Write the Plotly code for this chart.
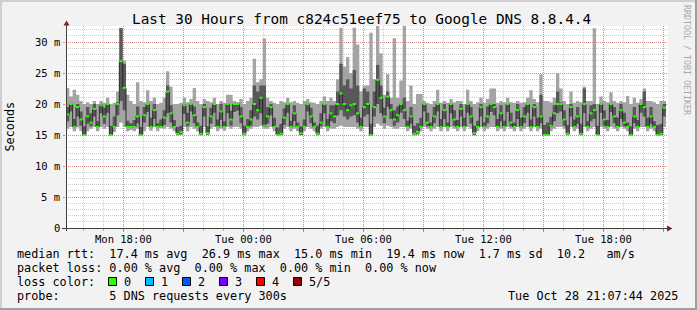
import plotly.graph_objects as go
import pandas as pd

# ---------------- data ----------------
TITLE = "Last 30 Hours from c824c51eef75 to Google DNS 8.8.4.4"
START = "2025-10-27 15:07:44"
END = "2025-10-28 21:07:44"
STEP = "10min"

# median rtt (ms) per 10-minute bin
median = [
    18.3, 20.0, 16.3, 19.5, 17.5, 15.0, 18.0, 17.0, 19.2, 16.3,
    19.8, 18.0, 20.0, 15.0, 16.3, 20.0, 26.9, 22.6, 16.3, 16.3,
    16.3, 18.0, 15.0, 18.2, 20.0, 16.3, 19.0, 16.3, 16.3, 17.8,
    22.0, 18.5, 16.3, 15.2, 15.5, 19.8, 17.0, 20.0, 18.2, 16.3,
    15.2, 19.5, 15.3, 18.0, 20.0, 16.3, 18.8, 16.3, 20.0, 17.5,
    20.0, 20.0, 18.0, 15.2, 16.3, 17.5, 20.0, 19.0, 21.0, 16.5,
    18.0, 19.5, 16.3, 15.0, 15.2, 17.8, 20.0, 16.3, 18.5, 16.3,
    15.3, 16.3, 20.0, 18.0, 16.3, 15.2, 17.0, 20.0, 16.3, 18.5,
    18.0, 20.0, 21.7, 20.0, 19.0, 19.8, 20.0, 18.5, 16.3, 19.5,
    20.0, 15.0, 19.5, 23.9, 21.0, 18.0, 21.2, 19.0, 17.5, 18.2,
    20.0, 19.0, 16.3, 18.0, 15.2, 15.5, 16.3, 20.0, 17.0, 16.3,
    18.0, 20.0, 16.3, 19.0, 16.3, 20.0, 17.5, 16.3, 19.2, 16.3,
    20.0, 18.0, 15.3, 16.3, 19.5, 16.3, 18.0, 20.0, 19.5, 16.3,
    18.5, 16.3, 20.0, 17.0, 16.3, 19.0, 16.3, 18.0, 20.0, 16.3,
    19.5, 16.3, 18.0, 15.0, 15.0, 16.5, 18.5, 20.0, 20.0, 17.5,
    15.2, 19.5, 16.3, 18.0, 15.2, 20.0, 16.3, 18.5, 19.0, 15.0,
    20.0, 17.5, 16.3, 20.0, 18.0, 16.3, 19.0, 17.0, 16.3, 15.0,
    18.0, 16.3, 20.0, 19.5, 16.3, 18.0, 16.3, 15.0, 15.2, 19.4,
]
# fastest ping of each bin
ping_min = [
    16.0, 16.3, 15.6, 16.2, 15.6, 14.9, 15.6, 16.0, 16.3, 15.6,
    16.3, 16.0, 16.3, 14.9, 15.5, 16.3, 17.0, 16.3, 15.6, 15.8,
    15.6, 16.0, 14.9, 15.6, 16.3, 15.7, 16.3, 15.6, 16.1, 16.0,
    16.3, 16.0, 15.6, 14.9, 15.0, 16.3, 15.6, 16.3, 16.0, 15.6,
    14.9, 16.3, 15.0, 16.0, 16.3, 15.6, 16.0, 15.7, 16.3, 16.0,
    16.3, 16.3, 16.0, 14.9, 15.6, 16.0, 16.3, 16.3, 16.5, 16.0,
    16.0, 16.3, 15.6, 14.9, 14.9, 16.0, 16.3, 15.6, 16.0, 15.6,
    14.9, 15.6, 16.3, 16.0, 15.6, 14.9, 16.0, 16.3, 15.6, 16.0,
    16.0, 16.3, 16.5, 16.3, 16.3, 16.3, 16.3, 16.0, 15.6, 16.3,
    16.3, 14.9, 16.3, 16.8, 16.5, 16.0, 16.5, 16.3, 16.0, 16.0,
    16.3, 16.3, 15.6, 16.0, 14.9, 15.0, 15.6, 16.3, 16.0, 15.6,
    16.0, 16.3, 15.6, 16.3, 15.6, 16.3, 16.0, 15.6, 16.3, 15.6,
    16.3, 16.0, 14.9, 15.6, 16.3, 15.6, 16.0, 16.3, 16.3, 15.6,
    16.0, 15.6, 16.3, 16.0, 15.6, 16.3, 15.6, 16.0, 16.3, 15.6,
    16.3, 15.6, 16.0, 14.9, 14.9, 15.6, 16.0, 16.3, 16.3, 16.0,
    14.9, 16.3, 15.6, 16.0, 14.9, 16.3, 15.6, 16.0, 16.3, 14.9,
    16.3, 16.0, 15.6, 16.3, 16.0, 15.6, 16.3, 16.0, 15.6, 14.9,
    16.0, 15.6, 16.3, 16.3, 15.6, 16.0, 15.6, 14.9, 14.9, 16.3,
]
# 2nd fastest ping
ping_lo = [
    17.2, 18.8, 16.3, 18.0, 16.5, 15.0, 16.8, 16.4, 18.0, 16.3,
    18.5, 16.8, 18.6, 15.0, 16.3, 18.2, 20.5, 19.0, 16.3, 16.3,
    16.3, 16.9, 15.0, 17.0, 18.7, 16.3, 17.6, 16.3, 16.3, 16.6,
    18.5, 17.0, 16.3, 15.0, 15.2, 18.4, 16.4, 18.8, 16.9, 16.3,
    15.0, 18.0, 15.1, 16.8, 18.6, 16.3, 17.4, 16.3, 18.5, 16.5,
    18.7, 18.9, 16.9, 15.0, 16.3, 16.5, 18.0, 17.5, 18.5, 16.3,
    16.8, 18.2, 16.3, 15.0, 15.0, 16.6, 18.6, 16.3, 17.2, 16.3,
    15.0, 16.3, 18.8, 16.9, 16.3, 15.0, 16.4, 18.5, 16.3, 17.2,
    16.9, 18.2, 19.0, 18.0, 17.5, 18.0, 18.2, 17.0, 16.3, 18.0,
    18.3, 15.0, 18.0, 20.0, 18.5, 16.9, 19.5, 17.6, 16.5, 17.0,
    18.6, 17.6, 16.3, 16.8, 15.0, 15.2, 16.3, 18.8, 16.4, 16.3,
    16.9, 18.8, 16.3, 17.6, 16.3, 18.5, 16.5, 16.3, 18.0, 16.3,
    18.6, 16.8, 15.0, 16.3, 18.0, 16.3, 16.9, 18.7, 18.2, 16.3,
    17.2, 16.3, 18.7, 16.4, 16.3, 17.6, 16.3, 16.9, 18.6, 16.3,
    18.0, 16.3, 16.9, 15.0, 15.0, 16.3, 17.2, 18.5, 18.8, 16.5,
    15.0, 18.0, 16.3, 16.8, 15.0, 18.5, 16.3, 17.2, 17.6, 15.0,
    18.6, 16.5, 16.3, 18.7, 16.9, 16.3, 17.6, 16.4, 16.3, 15.0,
    16.9, 16.3, 18.6, 18.0, 16.3, 16.8, 16.3, 15.0, 15.0, 18.0,
]
# 4th fastest ping
ping_hi = [
    19.5, 20.0, 17.6, 20.0, 18.8, 16.4, 19.5, 18.5, 20.0, 17.2,
    20.0, 19.4, 20.0, 16.5, 18.0, 20.3, 32.2, 26.5, 17.3, 16.9,
    17.4, 19.6, 16.3, 19.5, 20.0, 17.8, 20.0, 16.9, 17.5, 19.0,
    23.0, 19.8, 17.4, 16.3, 16.5, 20.0, 18.6, 20.0, 19.6, 17.0,
    16.5, 20.0, 16.4, 19.4, 20.0, 17.5, 20.0, 17.2, 20.0, 18.9,
    20.0, 20.2, 19.5, 16.5, 17.6, 19.0, 23.0, 22.0, 23.0, 23.0,
    19.5, 20.0, 17.8, 16.2, 16.8, 19.3, 20.0, 17.3, 19.8, 17.0,
    16.4, 17.5, 20.0, 19.4, 17.0, 16.5, 18.5, 20.0, 17.6, 19.8,
    19.8, 22.0, 26.5, 23.0, 24.0, 22.5, 25.5, 23.0, 17.8, 22.5,
    22.0, 16.8, 22.0, 26.3, 23.0, 19.4, 22.0, 20.0, 19.0, 19.6,
    20.0, 21.0, 17.3, 19.5, 16.5, 16.9, 17.8, 20.0, 18.6, 17.0,
    19.5, 20.0, 17.6, 20.0, 17.0, 20.0, 19.0, 17.4, 20.0, 17.8,
    20.0, 19.5, 16.5, 17.3, 20.0, 17.0, 19.6, 20.0, 20.0, 17.6,
    19.8, 17.3, 20.0, 18.6, 17.0, 20.0, 17.8, 19.5, 20.0, 17.5,
    20.0, 17.8, 21.5, 16.6, 17.0, 17.9, 19.8, 22.0, 20.3, 19.0,
    16.6, 20.0, 17.5, 19.5, 16.8, 22.5, 17.2, 19.8, 20.0, 16.5,
    20.0, 19.0, 17.4, 20.0, 19.5, 17.8, 20.0, 18.6, 17.0, 16.4,
    19.5, 17.4, 20.0, 22.0, 17.8, 19.5, 17.2, 16.6, 16.8, 20.0,
]
# slowest ping
ping_max = [
    22.6, 21.2, 22.3, 21.5, 20.5, 20.0, 20.3, 20.0, 20.5, 20.0,
    20.5, 20.2, 21.0, 20.0, 20.2, 22.0, 32.3, 27.0, 21.5, 20.5,
    20.0, 23.5, 20.5, 20.3, 22.2, 20.5, 21.0, 20.0, 20.2, 21.0,
    25.3, 22.8, 20.0, 20.0, 20.2, 21.0, 20.3, 20.8, 22.6, 20.5,
    20.0, 20.8, 20.5, 20.3, 21.0, 20.0, 20.5, 20.2, 21.5, 21.5,
    20.5, 20.3, 20.8, 20.0, 20.5, 21.0, 27.3, 23.5, 24.0, 30.6,
    21.0, 20.5, 20.2, 20.0, 20.5, 20.3, 21.0, 20.3, 20.5, 20.2,
    20.0, 20.5, 20.8, 20.3, 20.2, 20.0, 20.5, 21.2, 20.5, 21.0,
    20.5, 24.0, 32.3, 26.0, 27.6, 25.0, 32.3, 29.6, 22.0, 23.0,
    23.0, 31.5, 24.0, 32.6, 28.2, 21.5, 24.8, 21.0, 30.6, 21.0,
    23.8, 32.6, 20.5, 23.0, 20.0, 21.6, 21.6, 20.5, 20.2, 20.0,
    20.5, 22.3, 20.2, 20.5, 20.2, 20.8, 20.3, 20.5, 20.5, 20.0,
    22.3, 20.5, 20.0, 20.3, 21.0, 20.2, 20.8, 22.5, 22.5, 20.2,
    20.5, 20.3, 21.0, 20.3, 20.2, 20.5, 20.2, 20.3, 21.0, 22.2,
    20.8, 20.3, 24.8, 20.5, 20.5, 20.3, 21.0, 25.0, 22.5, 20.5,
    20.0, 22.0, 20.2, 20.5, 20.3, 22.8, 20.5, 20.5, 32.2, 20.0,
    21.2, 20.5, 20.3, 21.9, 20.5, 20.2, 20.5, 20.3, 21.3, 20.0,
    21.0, 20.2, 20.8, 22.5, 20.5, 20.5, 20.3, 20.0, 20.5, 20.5,
]

y_tick_values = [0, 5, 10, 15, 20, 25, 30]
y_tick_labels = ["0", "5 m", "10 m", "15 m", "20 m", "25 m", "30 m"]
x_tick_values = ["2025-10-27 18:00", "2025-10-28 00:00", "2025-10-28 06:00",
                 "2025-10-28 12:00", "2025-10-28 18:00"]
x_tick_labels = ["Mon 18:00", "Tue 00:00", "Tue 06:00", "Tue 12:00", "Tue 18:00"]
x_major_grid = pd.date_range("2025-10-27 18:00", "2025-10-28 21:00", freq="3h")

rtt_legend = "median rtt:  17.4 ms avg  26.9 ms max  15.0 ms min  19.4 ms now  1.7 ms sd  10.2   am/s"
loss_legend = "packet loss: 0.00 % avg  0.00 % max  0.00 % min  0.00 % now"
loss_labels = ["0", "1", "2", "3", "4", "5/5"]
loss_colors = ["#26ff00", "#00b8ff", "#0059ff", "#7e00ff", "#ff0000", "#a10000"]
probe_legend = "probe:       5 DNS requests every 300s"
stamp = "Tue Oct 28 21:07:44 2025"
watermark = "RRDTOOL / TOBI OETIKER"

# ---------------- geometry ----------------
W, H = 697, 310
L, R, T, B = 66, 668, 26, 228
YMAX = 32.58
FONT = "DejaVu Sans Mono"


def fx(px):
    return (px - L) / (R - L)


def fy(py):
    return (B - py) / (B - T)


def nb(s):
    return s.replace(" ", "\u00a0")


edges = list(pd.date_range(START, periods=len(median) + 1, freq=STEP))


def step(vals):
    return list(vals) + [vals[-1]]


fig = go.Figure()
# outer smoke: min..max
fig.add_trace(go.Scatter(x=edges, y=step(ping_min), mode="lines", line=dict(width=0, shape="hv"),
                         hoverinfo="skip"))
fig.add_trace(go.Scatter(x=edges, y=step(ping_max), mode="lines", line=dict(width=0, shape="hv"),
                         fill="tonexty", fillcolor="#a4a4a4", hoverinfo="skip"))
# inner smoke: 2nd..4th
fig.add_trace(go.Scatter(x=edges, y=step(ping_lo), mode="lines", line=dict(width=0, shape="hv"),
                         hoverinfo="skip"))
fig.add_trace(go.Scatter(x=edges, y=step(ping_hi), mode="lines", line=dict(width=0, shape="hv"),
                         fill="tonexty", fillcolor="#585858", hoverinfo="skip"))
# median connectors
fig.add_trace(go.Scatter(x=edges, y=step(median), mode="lines",
                         line=dict(width=1, shape="hv", color="rgba(30,30,30,0.85)"), hoverinfo="skip"))
# median coloured by loss (all 0 loss -> green)
gx, gy = [], []
for i, m in enumerate(median):
    gx += [edges[i], edges[i + 1], None]
    gy += [m, m, None]
fig.add_trace(go.Scatter(x=gx, y=gy, mode="lines", line=dict(width=2, color=loss_colors[0]),
                         hoverinfo="skip"))

ann = []


def text(px, py, s, size, xanchor="left", color="#000000", angle=0, xref="paper", yref="paper", xv=None, yv=None):
    ann.append(dict(
        x=xv if xv is not None else fx(px), y=yv if yv is not None else fy(py),
        xref=xref, yref=yref, text=nb(s), showarrow=False, xanchor=xanchor, yanchor="middle",
        borderpad=0, textangle=angle, font=dict(family=FONT, size=size, color=color)))


text(361.5, 19, TITLE, 14.4, xanchor="center")
text(9.5, 127, "Seconds", 11.8, xanchor="center", angle=-90)
text(687, 60, watermark, 8.3, xanchor="center", angle=90, color="#a8a8a8")
for v, lab in zip(y_tick_values, y_tick_labels):
    text(60.5, 0, lab, 10.5, xanchor="right", yref="y", yv=v)
for v, lab in zip(x_tick_values, x_tick_labels):
    text(0, 238.5, lab, 10.5, xanchor="center", xref="x", xv=v)

text(16, 254.3, rtt_legend, 11.8)
text(16, 268.3, loss_legend, 11.8)
text(16, 282.3, "loss color:", 11.8)
text(16, 296.3, probe_legend, 11.8)
text(679, 296.3, stamp, 11.8, xanchor="right")

shapes = []


def rect(x0, y0, x1, y1, fill, line=None, lw=0):
    shapes.append(dict(type="rect", xref="paper", yref="paper",
                       x0=fx(x0), x1=fx(x1), y0=fy(y0), y1=fy(y1),
                       fillcolor=fill, line=dict(width=lw, color=line or fill), layer="above"))


box_x = [108.5, 145.5, 182.5, 219.5, 256.5, 293.5]
for bx, col, lab in zip(box_x, loss_colors, loss_labels):
    rect(bx, 277.5, bx + 8, 285.5, col, "#000000", 1)
    text(bx + 14.3, 282.3, lab, 11.8)

# frame shading
rect(0, 0, W, 2, "#cfcfcf")
rect(0, 0, 2, H, "#cfcfcf")
rect(W - 2, 0, W, H, "#9e9e9e")
rect(0, H - 2, W, H, "#9e9e9e")


def line(x0, y0, x1, y1, col, w=1):
    shapes.append(dict(type="line", xref="paper", yref="paper", x0=fx(x0), x1=fx(x1),
                       y0=fy(y0), y1=fy(y1), line=dict(color=col, width=w), layer="above"))


def path(d_pts, col):
    d = "M " + " L ".join(f"{fx(a)},{fy(b)}" for a, b in d_pts) + " Z"
    shapes.append(dict(type="path", xref="paper", yref="paper", path=d, fillcolor=col,
                       line=dict(width=0), layer="above"))


line(66.5, 231, 66.5, 25, "#404040")
line(62, 228.5, 668, 228.5, "#404040")
path([(63.5, 25.5), (69.5, 25.5), (66.5, 20.5)], "#801f1f")
path([(667, 225.5), (667, 231.5), (672.5, 228.5)], "#801f1f")

fig.update_layout(
    width=W, height=H, autosize=False,
    margin=dict(l=L, r=W - R, t=T, b=H - B, pad=0),
    paper_bgcolor="#f2f2f2", plot_bgcolor="#ffffff",
    showlegend=False, hovermode=False,
    annotations=ann, shapes=shapes,
    xaxis=dict(
        type="date", range=[START, "2025-10-28 21:13:44"], fixedrange=True,
        tickvals=list(x_major_grid), showticklabels=False,
        ticks="outside", ticklen=3, tickcolor="rgba(222,79,79,0.7)",
        showgrid=True, gridcolor="rgba(222,79,79,0.55)", griddash="1px,1px", gridwidth=1,
        minor=dict(dtick=3600000, tick0="2025-10-27 16:00", showgrid=True,
                   gridcolor="rgba(143,143,143,0.45)", griddash="1px,1px",
                   ticks="outside", ticklen=2, tickcolor="rgba(143,143,143,0.7)"),
        showline=False, zeroline=False,
    ),
    yaxis=dict(
        range=[0, YMAX], fixedrange=True,
        tickvals=y_tick_values, showticklabels=False,
        ticks="outside", ticklen=2, tickcolor="rgba(222,79,79,0.7)",
        showgrid=True, gridcolor="rgba(222,79,79,0.55)", griddash="1px,1px", gridwidth=1,
        minor=dict(dtick=1, showgrid=True, gridcolor="rgba(143,143,143,0.45)", griddash="1px,1px"),
        showline=False, zeroline=False,
    ),
)

fig.write_html("out.html", config={"displayModeBar": False, "staticPlot": True})
